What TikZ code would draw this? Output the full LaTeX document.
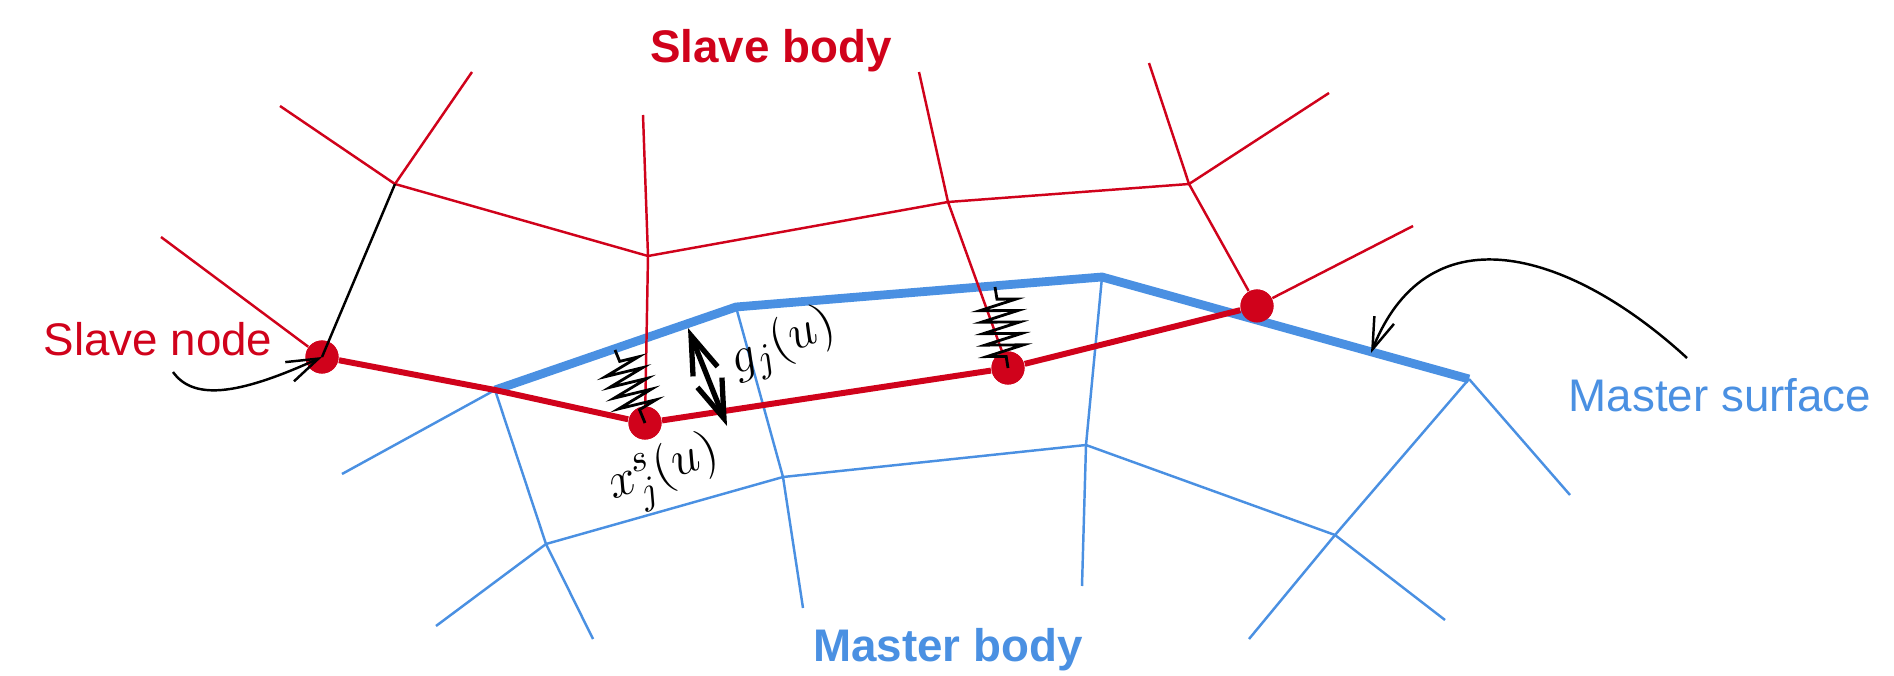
\documentclass[tikz,border=0pt]{standalone}
\usepackage{amsmath,amssymb}
\usepackage{fontspec}
\setmainfont{Liberation Sans}
\usepackage{tikz}
\usetikzlibrary{arrows.meta,decorations.pathmorphing}
\definecolor{slavered}{HTML}{D0021B}
\definecolor{masterblue}{HTML}{4A90E2}

\begin{document}
\begin{tikzpicture}[x=0.01cm,y=-0.01cm,>=Stealth,
  slavethin/.style={slavered,line width=0.7pt},
  slavethick/.style={slavered,line width=1.7pt},
  masterthin/.style={masterblue,line width=0.7pt},
  masterthick/.style={masterblue,line width=2.5pt},
  slavedot/.style={circle,fill=slavered,inner sep=0pt,minimum size=9.4pt},
  pointer/.style={black,line width=0.7pt,-{Straight Barb[length=9pt,width=6pt]}},
  spring/.style={black,line width=0.8pt,decorate,decoration={zigzag,amplitude=5.4pt,segment length=3.3pt,pre length=3.5pt,post length=3.3pt}},
  gaparrow/.style={black,line width=1.5pt,{Straight Barb[length=11pt,width=7.5pt]}-{Straight Barb[length=11pt,width=7.5pt]}},
  mathlabel/.style={black,font=\fontsize{15}{15}\selectfont}]
  \useasboundingbox (0,0) rectangle (1894,676);
  % slave mesh points
  \node[slavedot] (n1) at (322,357) {};
  \node[slavedot] (n2) at (645,423) {};
  \node[slavedot] (n3) at (1008,368) {};
  \node[slavedot] (n4) at (1257,306) {};
  \coordinate (a) at (395,184);
  \coordinate (b) at (648,256);
  \coordinate (c) at (948,202);
  \coordinate (d) at (1189,184);
  % master mesh points
  \coordinate (m1) at (495,390);
  \coordinate (m2) at (736,307);
  \coordinate (m3) at (1102,277);
  \coordinate (m4) at (1469,379);
  \coordinate (p1) at (546,544);
  \coordinate (p2) at (783,477);
  \coordinate (p3) at (1086,445);
  \coordinate (p4) at (1335,535);
  % master body
  \draw[masterthin] (p1) -- (p2) -- (p3) -- (p4);
  \draw[masterthin] (m1) -- (342,474);
  \draw[masterthin] (m1) -- (p1) -- (436,626);
  \draw[masterthin] (p1) -- (593,639);
  \draw[masterthin] (m2) -- (p2) -- (803,608);
  \draw[masterthin] (m3) -- (p3) -- (1082,586);
  \draw[masterthin] (m4) -- (p4) -- (1249,639);
  \draw[masterthin] (p4) -- (1445,620);
  \draw[masterthin] (m4) -- (1570,495);
  \draw[masterthick] (m1) -- (m2) -- (m3) -- (m4);
  % slave body
  \draw[slavethin] (a) -- (b) -- (c) -- (d);
  \draw[slavethin] (a) -- (472,72);
  \draw[slavethin] (a) -- (280,106);
  \draw[slavethin] (n1) -- (161,237);
  \draw[slavethin] (b) -- (643,115);
  \draw[slavethin] (b) -- (n2);
  \draw[slavethin] (c) -- (919,72);
  \draw[slavethin] (c) -- (n3);
  \draw[slavethin] (d) -- (1149,63);
  \draw[slavethin] (d) -- (1329,93);
  \draw[slavethin] (d) -- (n4);
  \draw[slavethin] (n4) -- (1413,226);
  \draw[slavethick] (n1) -- (m1) -- (n2) -- (n3) -- (n4);
  \node[slavedot] at (n1) {};
  \node[slavedot] at (n2) {};
  \node[slavedot] at (n3) {};
  \node[slavedot] at (n4) {};
  % black parts
  \draw[black,line width=0.7pt] (a) -- (n1.center);
  \coordinate (s1) at (615,350);
  \coordinate (s2) at (995,287);
  \coordinate (w1) at (173,372);
  \coordinate (w2) at (1687,358);
  \coordinate (t2) at (1371,353);
  \coordinate (g1) at (688,328);
  \coordinate (g2) at (727,426);
  \draw[spring] (s1) -- (n2.center);
  \draw[spring] (s2) -- (n3.center);
  \draw[gaparrow] (g1) -- (g2);
  \draw[pointer] (w1) .. controls (195,403) and (245,392) .. (n1.center);
  \draw[pointer] (w2) .. controls (1575,255) and (1430,205) .. (t2);
  % labels
  \node[slavered,font=\bfseries\fontsize{13}{13}\selectfont] (slavebody) at (771,51) {Slave body};
  \node[masterblue,font=\bfseries\fontsize{13}{13}\selectfont] (masterbody) at (948,650) {Master body};
  \node[slavered,font=\fontsize{13}{13}\selectfont] (slavenode) at (158,339) {Slave node};
  \node[masterblue,font=\fontsize{13}{13}\selectfont] (mastersurface) at (1720,395) {Master surface};
  \node[mathlabel,rotate=19] (xlabel) at (665,474) {$x_j^s(u)$};
  \node[mathlabel,rotate=22] (glabel) at (783,344) {$g_j(u)$};
\end{tikzpicture}
\end{document}
